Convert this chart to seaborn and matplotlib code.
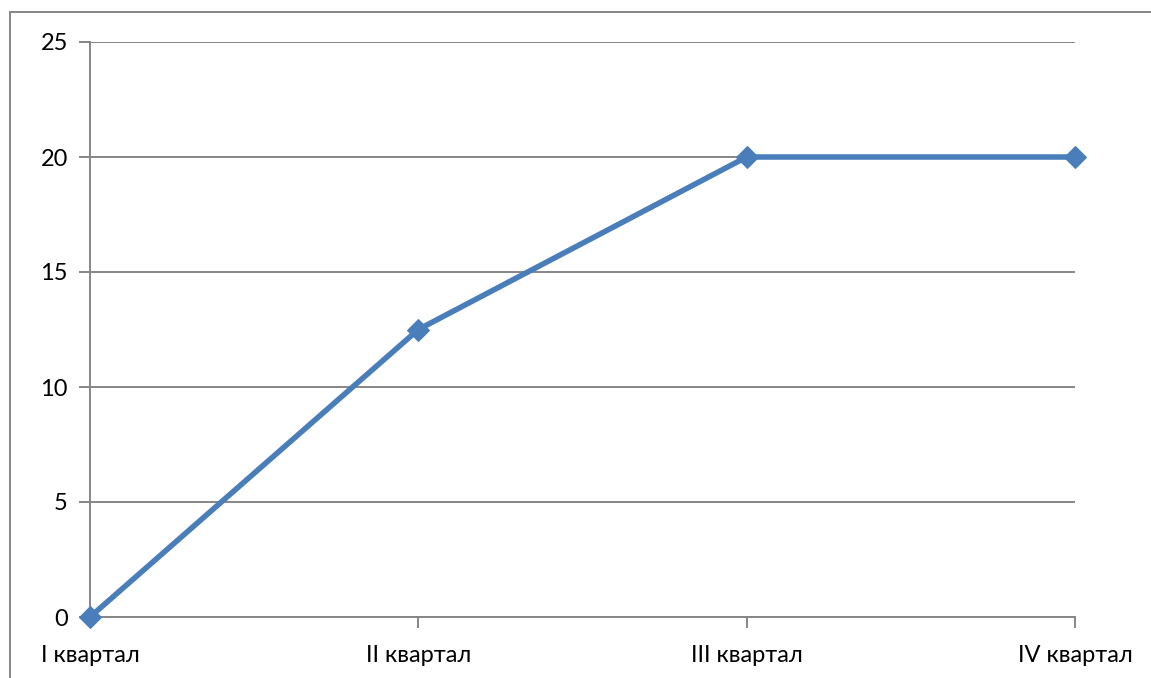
import matplotlib
matplotlib.use("Agg")
import matplotlib.pyplot as plt
import seaborn as sns
import pandas as pd
from matplotlib.patches import Rectangle

quarters = ["I квартал", "II квартал", "III квартал", "IV квартал"]
values = [0, 12.5, 20, 20]
y_ticks = [0, 5, 10, 15, 20, 25]

sns.set_style("white")
plt.rcParams["font.family"] = ["Lato", "DejaVu Sans"]

df = pd.DataFrame({"pos": range(len(quarters)), "value": values})

W, H = 1151, 678
fig = plt.figure(figsize=(W / 100, H / 100), dpi=100)
ax = fig.add_axes([90 / W, 1 - 617 / H, (1075 - 90) / W, (617 - 42) / H])

grid_col = "#868686"
line_col = "#4a7ebb"

sns.lineplot(data=df, x="pos", y="value", ax=ax, color=line_col, linewidth=4,
             marker="D", markersize=11, markeredgecolor=line_col, clip_on=False, zorder=5)

ax.set_xlim(0, len(quarters) - 1)
ax.set_ylim(0, 25)
ax.set_yticks(y_ticks)
ax.set_yticklabels([str(v) for v in y_ticks])
ax.set_xticks(range(len(quarters)))
ax.set_xticklabels(quarters)
ax.set_xlabel("")
ax.set_ylabel("")

ax.grid(axis="y", color=grid_col, linewidth=1.4)
ax.grid(axis="x", visible=False)
for side in ["top", "right"]:
    ax.spines[side].set_visible(False)
for side in ["left", "bottom"]:
    ax.spines[side].set_color(grid_col)
    ax.spines[side].set_linewidth(1.4)

ax.tick_params(axis="both", which="major", direction="out", length=8, width=1.4,
               color=grid_col, labelsize=17, labelcolor="black",
               left=True, bottom=True)
ax.tick_params(axis="y", pad=8)
ax.tick_params(axis="x", pad=12)

# outer chart frame
fig.patches.append(Rectangle((10 / W, -0.1), 1.2, 1 - 12 / H + 0.1,
                             transform=fig.transFigure, fill=False,
                             edgecolor=grid_col, linewidth=1.4))

fig.savefig("out.png", dpi=100)
